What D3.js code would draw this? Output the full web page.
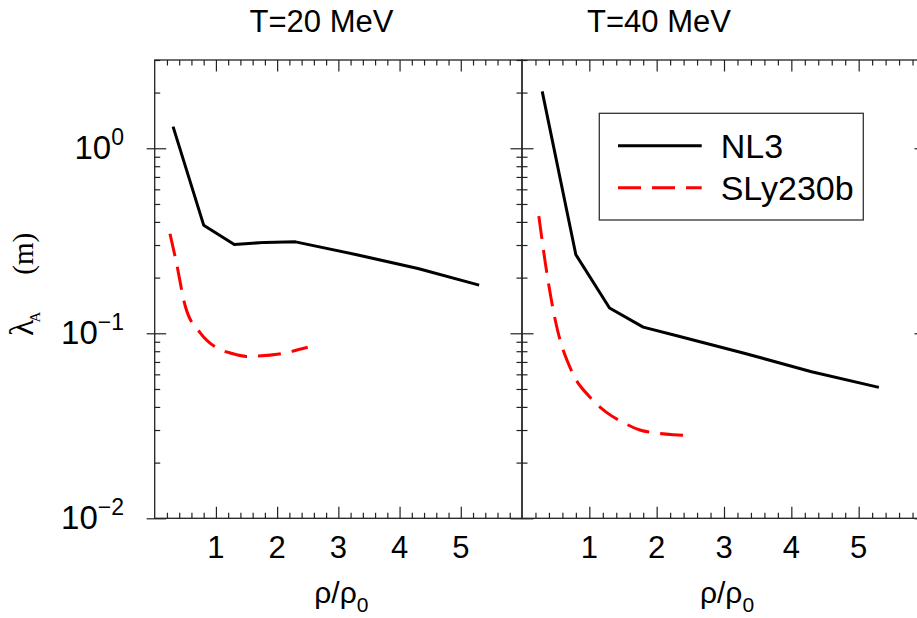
<!DOCTYPE html>
<html>
<head>
<meta charset="utf-8">
<script src="https://cdn.jsdelivr.net/npm/d3@7"></script>
<style>
  body { margin: 0; background: #fff; }
  text { font-family: "Liberation Sans", Arial, sans-serif; fill: #000; }
</style>
</head>
<body>
<div id="chart"></div>
<script>
// panel titles and series names
var panelTitles = ["T=20 MeV", "T=40 MeV"];
var seriesNames = ["NL3", "SLy230b"];

// NL3 (solid black)
var nl3Rho = [0.3, 0.8, 1.3, 1.8, 2.3, 3.3, 4.3, 5.3];
var nl3T20 = [1.31, 0.384, 0.302, 0.31, 0.312, 0.266, 0.224, 0.182];
var nl3T40 = [2.03, 0.266, 0.137, 0.108, 0.097, 0.078, 0.062, 0.051];

// SLy230b (dashed red)
var slyRho = [0.25, 0.35, 0.5, 0.75, 1.0, 1.25, 1.5, 1.75, 2.0, 2.25, 2.5];
var slyT20 = [0.345, 0.245, 0.14, 0.1, 0.084, 0.078, 0.075, 0.0755, 0.077, 0.08, 0.084];
var slyT40 = [0.43, 0.235, 0.115, 0.061, 0.0455, 0.0375, 0.033, 0.030, 0.0289, 0.0283, 0.028];

// ticks
var xTicks = [1, 2, 3, 4, 5];
var yTicks = [0.01, 0.1, 1];
var yTickExp = ["\u22122", "\u22121", "0"];

var W = 917, H = 618;
var plotTop = 60, plotBottom = 518.3;

var svg = d3.select("#chart").append("svg")
  .attr("width", W)
  .attr("height", H);

var y = d3.scaleLog().domain([0.01, 3]).range([plotBottom, plotTop]);

var panels = [
  { x0: 154.7, x1: 522, title: panelTitles[0], nl3: nl3T20, sly: slyT20, titleX: 249.5 },
  { x0: 522, x1: 926, title: panelTitles[1], nl3: nl3T40, sly: slyT40, titleX: 587 }
];

// minor tick values
var xMinor = d3.range(0.2, 6, 0.2).filter(function(v) {
  return Math.abs(v - Math.round(v)) > 0.01;
});
var yMinor = [];
[0.01, 0.1, 1].forEach(function(d) {
  for (var k = 2; k <= 9; k++) {
    if (d * k <= 3.001) yMinor.push(d * k);
  }
});

function noDomain(a) { a.select(".domain").remove(); }

panels.forEach(function(p, i) {
  var x = d3.scaleLinear().domain([0, 6]).range([p.x0, p.x1]);
  var g = svg.append("g");

  // bottom / top ticks
  g.append("g")
    .attr("transform", "translate(0," + plotBottom + ")")
    .call(d3.axisBottom(x).tickValues(xTicks).tickSize(-11.5).tickFormat(""))
    .call(noDomain);
  g.append("g")
    .attr("transform", "translate(0," + plotBottom + ")")
    .call(d3.axisBottom(x).tickValues(xMinor).tickSize(-5.5).tickFormat(""))
    .call(noDomain);
  g.append("g")
    .attr("transform", "translate(0," + plotTop + ")")
    .call(d3.axisTop(x).tickValues(xTicks).tickSize(-11.5).tickFormat(""))
    .call(noDomain);
  g.append("g")
    .attr("transform", "translate(0," + plotTop + ")")
    .call(d3.axisTop(x).tickValues(xMinor).tickSize(-5.5).tickFormat(""))
    .call(noDomain);

  // left / right ticks (inward)
  g.append("g")
    .attr("transform", "translate(" + p.x0 + ",0)")
    .call(d3.axisLeft(y).tickValues(yTicks).tickSize(-11.5).tickFormat(""))
    .call(noDomain);
  g.append("g")
    .attr("transform", "translate(" + p.x0 + ",0)")
    .call(d3.axisLeft(y).tickValues(yMinor).tickSize(-5.5).tickFormat(""))
    .call(noDomain);
  g.append("g")
    .attr("transform", "translate(" + p.x1 + ",0)")
    .call(d3.axisRight(y).tickValues(yTicks).tickSize(-11.5).tickFormat(""))
    .call(noDomain);
  g.append("g")
    .attr("transform", "translate(" + p.x1 + ",0)")
    .call(d3.axisRight(y).tickValues(yMinor).tickSize(-5.5).tickFormat(""))
    .call(noDomain);

  // outer major ticks on the far-left axis stick outward as well
  if (i === 0) {
    g.append("g")
      .attr("transform", "translate(" + p.x0 + ",0)")
      .call(d3.axisLeft(y).tickValues(yTicks).tickSize(8).tickFormat(""))
      .call(noDomain);
  }

  g.selectAll(".tick line").attr("stroke", "#222").attr("stroke-width", 1.2);

  // frame
  g.append("rect")
    .attr("x", p.x0).attr("y", plotTop)
    .attr("width", p.x1 - p.x0).attr("height", plotBottom - plotTop)
    .attr("fill", "none").attr("stroke", "#222").attr("stroke-width", 1.3);

  // x tick labels
  g.selectAll(".xlab")
    .data(xTicks)
    .enter().append("text")
    .attr("x", function(d) { return x(d); })
    .attr("y", plotBottom + 40)
    .attr("text-anchor", "middle")
    .style("font-size", "31px")
    .text(function(d) { return d; });

  // x axis title
  var xt = g.append("text")
    .attr("x", (p.x0 + p.x1) / 2 + 3)
    .attr("y", 603)
    .attr("text-anchor", "middle")
    .style("font-size", "30px");
  xt.append("tspan").text("\u03c1/\u03c1");
  xt.append("tspan").attr("dy", 9).style("font-size", "21px").text("0");

  // panel title
  g.append("text")
    .attr("x", p.titleX)
    .attr("y", 31.7)
    .style("font-size", "31px")
    .text(p.title);

  // curves
  var nl3 = nl3Rho.map(function(r, k) { return [r, p.nl3[k]]; });
  var sly = slyRho.map(function(r, k) { return [r, p.sly[k]]; });

  g.append("path")
    .datum(nl3)
    .attr("fill", "none")
    .attr("stroke", "#000")
    .attr("stroke-width", 3)
    .attr("stroke-linejoin", "round")
    .attr("d", d3.line()
      .x(function(d) { return x(d[0]); })
      .y(function(d) { return y(d[1]); }));

  g.append("path")
    .datum(sly)
    .attr("fill", "none")
    .attr("stroke", "#ff0000")
    .attr("stroke-width", 3)
    .attr("stroke-dasharray", "23,11")
    .attr("d", d3.line()
      .curve(d3.curveMonotoneX)
      .x(function(d) { return x(d[0]); })
      .y(function(d) { return y(d[1]); }));
});

// y tick labels
var ylab = svg.selectAll(".ylab")
  .data(yTicks)
  .enter().append("text")
  .attr("x", 124)
  .attr("y", function(d) { return y(d) + 10.6; })
  .attr("text-anchor", "end")
  .style("font-size", "33px");
ylab.append("tspan").text("10");
ylab.append("tspan")
  .attr("dy", -14)
  .style("font-size", "23px")
  .text(function(d, k) { return yTickExp[k]; });

// y axis title
var yt = svg.append("text")
  .attr("transform", "translate(33,336) rotate(-90)")
  .style("font-family", "'Liberation Serif', 'Times New Roman', serif")
  .style("font-size", "34px");
yt.append("tspan").text("\u03bb");
yt.append("tspan").attr("dy", 7).attr("dx", -3).style("font-size", "15px").text("A");
yt.append("tspan").attr("dy", -7).attr("dx", 37).style("font-size", "29px").text("(m)");

// legend
var legend = svg.append("g");
legend.append("rect")
  .attr("x", 599.3).attr("y", 113.3)
  .attr("width", 264).attr("height", 106.7)
  .attr("fill", "#fff").attr("stroke", "#333").attr("stroke-width", 1.3);
var legendStyles = [
  { color: "#000", dash: null, y: 145.7 },
  { color: "#ff0000", dash: "23,11", y: 187.7 }
];
seriesNames.forEach(function(name, k) {
  var s = legendStyles[k];
  legend.append("line")
    .attr("x1", 618).attr("x2", 701.7)
    .attr("y1", s.y).attr("y2", s.y)
    .attr("stroke", s.color).attr("stroke-width", 3)
    .attr("stroke-dasharray", s.dash);
  legend.append("text")
    .attr("x", 720.7)
    .attr("y", s.y + 11.8)
    .style("font-size", "34px")
    .text(name);
});
</script>
</body>
</html>
